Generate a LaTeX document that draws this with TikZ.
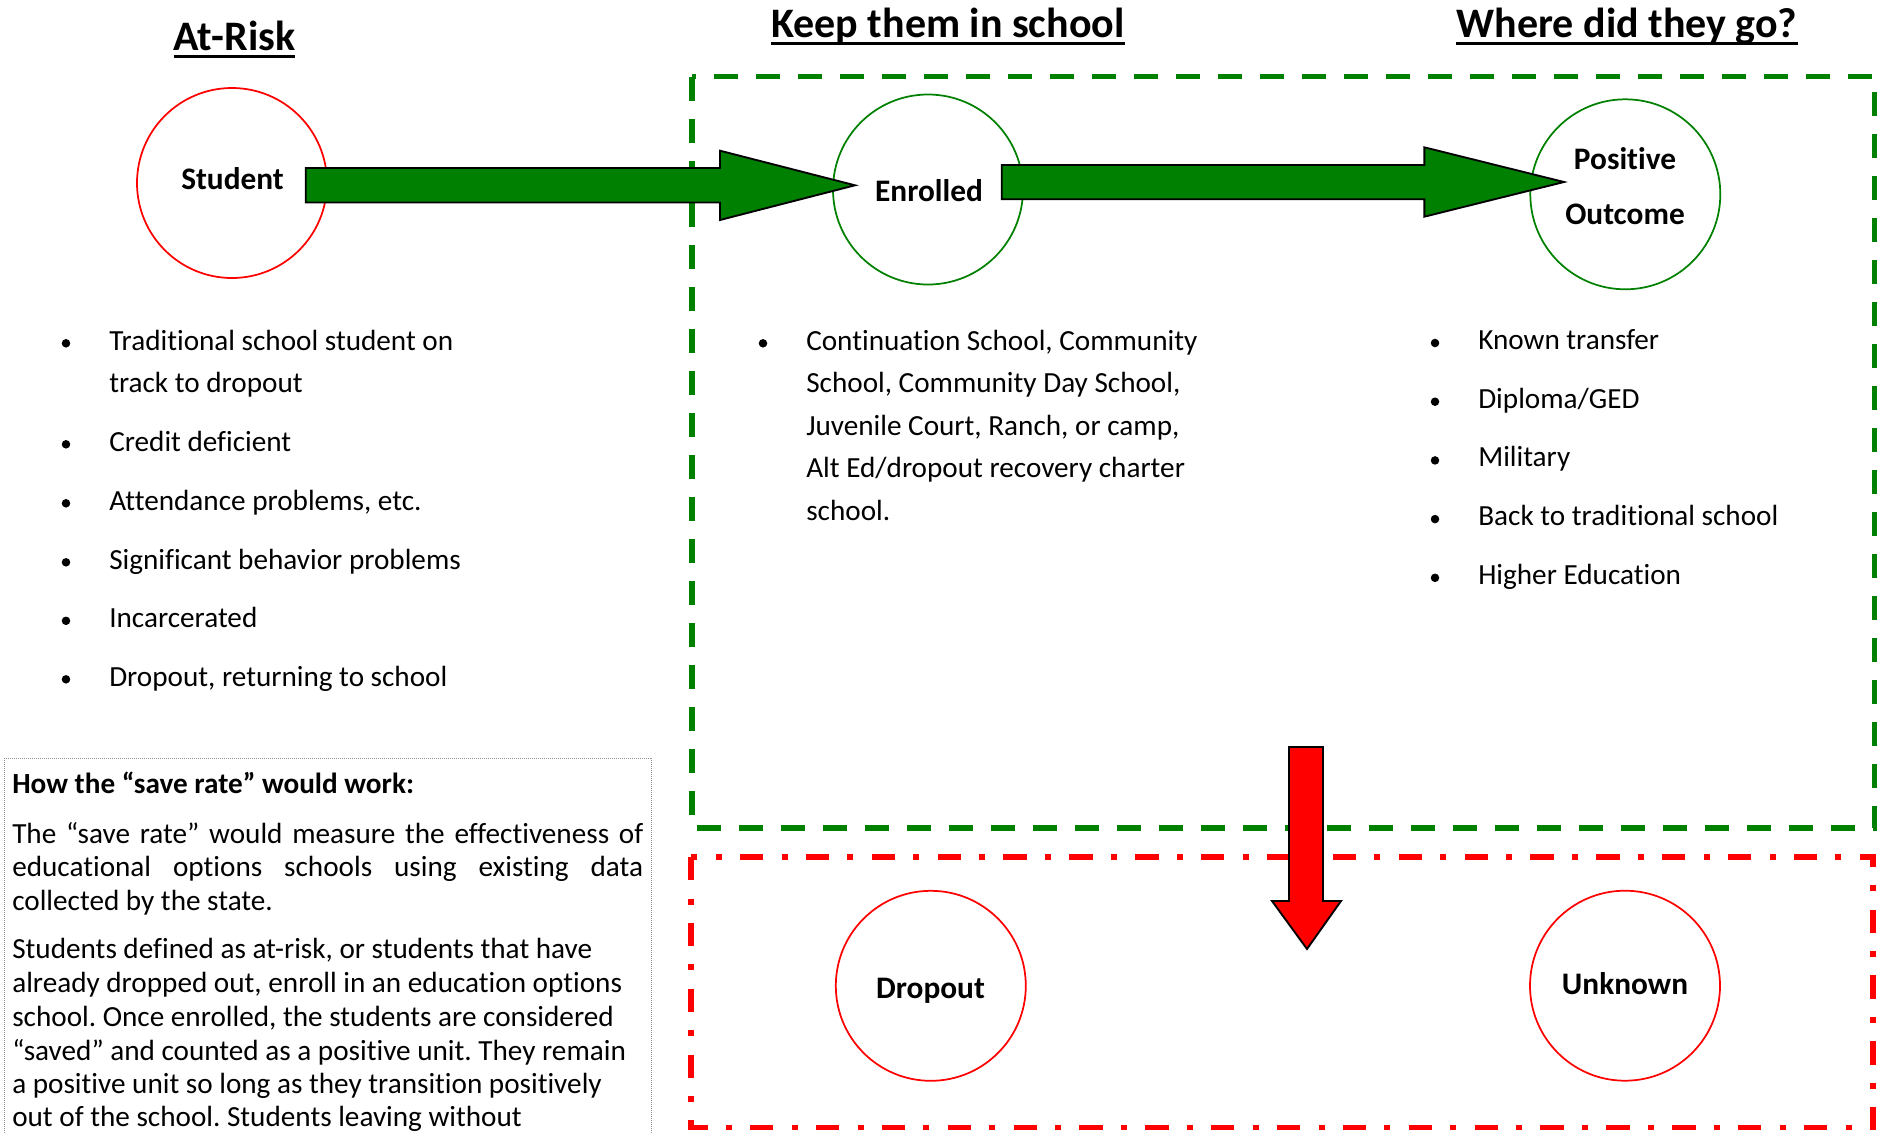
\documentclass[tikz,border=0pt]{standalone}
\usepackage{fontspec}
\setmainfont{Carlito}[Ligatures={NoCommon}]
\frenchspacing
\definecolor{dgreen}{HTML}{008000}
\definecolor{pred}{HTML}{FF0000}
\definecolor{boxgray}{HTML}{8C8C8C}
\newcommand\myBody{\fontsize{21.9pt}{26pt}\selectfont}
\newcommand\myLbl{\fontsize{23.5pt}{28pt}\selectfont\bfseries}
\newcommand\myTtl{\fontsize{31.5pt}{36pt}\selectfont\bfseries}
\tikzset{
  txt/.style={anchor=base west, inner sep=0pt, font=\myBody},
  lbl/.style={anchor=base, inner sep=0pt, font=\myLbl},
  ttl/.style={anchor=base, inner sep=0pt, font=\myTtl},
  ring/.style={circle, minimum size=142.5pt, inner sep=0pt, line width=1.3pt},
  blockarrow/.style={draw=black, line width=1.4pt, line join=miter},
  bul/.style={circle, fill=black, inner sep=0pt, minimum size=6.4pt},
  greenbox/.style={draw=dgreen, line width=4.1pt, dash pattern=on 18pt off 13.5pt},
  redbox/.style={draw=pred, line width=4pt, dash pattern=on 17.5pt off 13.7pt on 4.5pt off 13.7pt},
  ulin/.style={line width=2.25pt}
}
\begin{document}
\begin{tikzpicture}[x=0.75pt,y=-0.75pt]
\useasboundingbox (0,0) rectangle (1881,1132);

% titles
\node[ttl] (t1) at (234.5,50) {At-Risk};
\node[ttl] (t2) at (948,37) {Keep them in school};
\node[ttl] (t3) at (1627,37) {Where did they go?};
\foreach \t in {t1,t2,t3}
  \draw[ulin] ([yshift=-4.5pt]\t.base west) -- ([yshift=-4.5pt]\t.base east);

% dashed region boxes
\draw[greenbox] (692,76.7) rectangle (1874.5,828);
\draw[redbox] (691,857) rectangle (1873,1127.3);

% circles
\node[ring, draw=pred] (student) at (232,183) {};
\node[ring, draw=dgreen] (enrolled) at (928,189.5) {};
\node[ring, draw=dgreen] (positive) at (1625.3,194.3) {};
\node[ring, draw=pred] (dropout) at (930.8,985.8) {};
\node[ring, draw=pred] (unknown) at (1625,985.7) {};

% block arrows
\draw[blockarrow, fill=dgreen] (305.7,168) -- (720,168) -- (720,150.7) -- (855,185.3)
  -- (720,220) -- (720,202.5) -- (305.7,202.5) -- cycle;
\draw[blockarrow, fill=dgreen] (1001.7,165) -- (1424.3,165) -- (1424.3,147.3) -- (1564,182)
  -- (1424.3,216.7) -- (1424.3,199.2) -- (1001.7,199.2) -- cycle;
\draw[blockarrow, fill=pred] (1289,747) -- (1323,747) -- (1323,901) -- (1341,901)
  -- (1307,949) -- (1272,901) -- (1289,901) -- cycle;

% circle labels
\node[lbl] (studentlbl) at (232.5,189.3) {Student};
\node[lbl] (enrolledlbl) at (929,201.7) {Enrolled};
\node[lbl] (poslbl1) at (1625,169) {Positive};
\node[lbl] (poslbl2) at (1625,224.3) {Outcome};
\node[lbl] (dropoutlbl) at (930.5,998.3) {Dropout};
\node[lbl] (unknownlbl) at (1625,994) {Unknown};

% left bullet list
\node[bul] (lb1) at (66,343.3) {};
\node[txt] (la1) at (109,350) {Traditional school student on};
\node[txt] (la2) at (109,392.3) {track to dropout};
\node[bul] (lb2) at (66,444.3) {};
\node[txt] (lc) at (109,451) {Credit deficient};
\node[bul] (lb3) at (66,503.3) {};
\node[txt] (ld) at (109,510) {Attendance problems, etc.};
\node[bul] (lb4) at (66,562.3) {};
\node[txt] (le) at (109,569) {Significant behavior problems};
\node[bul] (lb5) at (66,620.8) {};
\node[txt] (lf) at (109,627.5) {Incarcerated};
\node[bul] (lb6) at (66,679.3) {};
\node[txt] (lg) at (109,686) {Dropout, returning to school};

% middle bullet list
\node[bul] (mb1) at (763,343.3) {};
\node[txt] (m1) at (806,350) {Continuation School, Community};
\node[txt] (m2) at (806,392.5) {School, Community Day School,};
\node[txt] (m3) at (806,435) {Juvenile Court, Ranch, or camp,};
\node[txt] (m4) at (806,477.5) {Alt Ed/dropout recovery charter};
\node[txt] (m5) at (806,520) {school.};

% right bullet list
\node[bul] (rb1) at (1435,343) {};
\node[txt] (r1) at (1478,349.5) {Known transfer};
\node[bul] (rb2) at (1435,401.7) {};
\node[txt] (r2) at (1478,408.2) {Diploma/GED};
\node[bul] (rb3) at (1435,460.4) {};
\node[txt] (r3) at (1478,466.9) {Military};
\node[bul] (rb4) at (1435,519.1) {};
\node[txt] (r4) at (1478,525.6) {Back to traditional school};
\node[bul] (rb5) at (1435,577.8) {};
\node[txt] (r5) at (1478,584.3) {Higher Education};

% explanation box
\draw[draw=boxgray, line width=0.75pt, dash pattern=on 0.75pt off 0.75pt] (4.3,758.3) rectangle (651.8,1145);
\node[txt, font=\myBody\bfseries] (bh) at (12,793) {How the “save rate” would work:};
\node[txt] (b1) at (12,843.3) {\makebox[473.25pt][s]{The “save rate” would measure the effectiveness of}};
\node[txt] (b2) at (12,876.7) {\makebox[473.25pt][s]{educational options schools using existing data}};
\node[txt] (b3) at (12,910) {collected by the state.};
\node[txt] (b4) at (12,958) {Students defined as at-risk, or students that have};
\node[txt] (b5) at (12,992) {already dropped out, enroll in an education options};
\node[txt] (b6) at (12,1026) {school. Once enrolled, the students are considered};
\node[txt] (b7) at (12,1060) {“saved” and counted as a positive unit. They remain};
\node[txt] (b8) at (12,1093) {a positive unit so long as they transition positively};
\node[txt] (b9) at (12,1126.5) {out of the school. Students leaving without};
\end{tikzpicture}
\end{document}
